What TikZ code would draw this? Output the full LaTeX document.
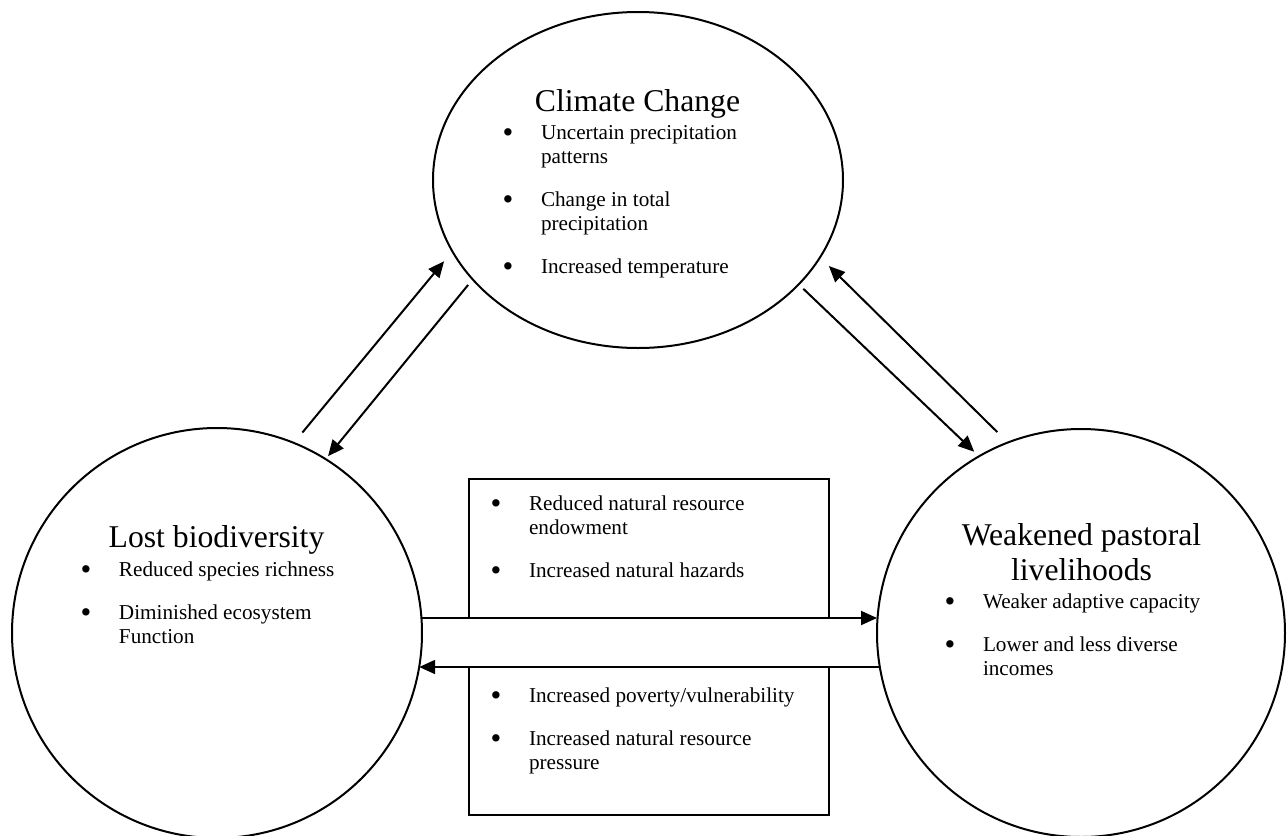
\documentclass[tikz,border=0pt]{standalone}
\usepackage{fontspec}
\setmainfont{Liberation Serif}
\usetikzlibrary{shapes.geometric,arrows.meta}

\newcommand{\headfont}{\fontsize{15.85}{17.5}\selectfont}
\newcommand{\listfont}{\fontsize{10.6}{12}\selectfont}
\newcommand{\gapitem}{\\[9.5pt]}
\newcommand{\dotmark}{\raisebox{-1.9pt}{\scalebox{1.45}{\textbullet}}}

\begin{document}
\begin{tikzpicture}[
                %scale in pixels of the picture
                x=0.5pt, y=-0.5pt,
                line width=1pt,
                bubble/.style={draw, ellipse, inner sep=0pt, outer sep=0pt},
                listbox/.style={draw, rectangle, inner sep=0pt, outer sep=0pt, line width=0.9pt},
                heading/.style={anchor=base, inner sep=0pt, font=\headfont},
                points/.style={anchor=base west, inner sep=0pt, font=\listfont},
                link/.style={-{Triangle[length=8pt,width=7pt]}}] %

\useasboundingbox (0,0) rectangle (1287,836);

% circles


                    % 1
                    \node[bubble, minimum width=205pt, minimum height=168pt] (CC) at (638,180) {};
                    \node[heading] (CCT) at (637.5,111) {Climate Change};
                    \node[points] (CCL) at (501.6,139) {\begin{tabular}[t]{@{}p{19.2pt}@{}l@{}}
                        \dotmark & Uncertain precipitation\\ & patterns\gapitem
                        \dotmark & Change in total\\ & precipitation\gapitem
                        \dotmark & Increased temperature
                    \end{tabular}};


                    % 2
                    \node[bubble, minimum width=205pt, minimum height=205pt] (LB) at (217,633) {};
                    \node[heading] (LBT) at (216.5,547) {Lost biodiversity};
                    \node[points] (LBL) at (79.6,576) {\begin{tabular}[t]{@{}p{19.2pt}@{}l@{}}
                        \dotmark & Reduced species richness\gapitem
                        \dotmark & Diminished ecosystem\\ & Function
                    \end{tabular}};


                    % 3
                    \node[bubble, minimum width=204pt, minimum height=204pt] (WPL) at (1081,633) {};
                    \node[heading] (WPLT) at (1081.5,545) {\begin{tabular}[t]{@{}c@{}}
                        Weakened pastoral\\ livelihoods
                    \end{tabular}};
                    \node[points] (WPLL) at (943.6,608) {\begin{tabular}[t]{@{}p{19.2pt}@{}l@{}}
                        \dotmark & Weaker adaptive capacity\gapitem
                        \dotmark & Lower and less diverse\\ & incomes
                    \end{tabular}};


% boxes

                    \node[listbox, minimum width=180pt, minimum height=69.5pt] (EFF) at (649,548.5) {};
                    \node[points] (EFFL) at (489.6,510) {\begin{tabular}[t]{@{}p{19.2pt}@{}l@{}}
                        \dotmark & Reduced natural resource\\ & endowment\gapitem
                        \dotmark & Increased natural hazards
                    \end{tabular}};

                    \node[listbox, minimum width=180pt, minimum height=74pt] (POV) at (649,741) {};
                    \node[points] (POVL) at (489.6,702) {\begin{tabular}[t]{@{}p{19.2pt}@{}l@{}}
                        \dotmark & Increased poverty/vulnerability\gapitem
                        \dotmark & Increased natural resource\\ & pressure
                    \end{tabular}};


% arrows

                    \draw[link, shorten <=6.75pt, shorten >=6.5pt] (LB.68.5) -- (CC.201.6);
                    \draw[link, shorten <=3.6pt, shorten >=1.9pt] (CC.211.9) -- (LB.58.7);
                    \draw[link, shorten <=3.2pt, shorten >=3.3pt] (CC.327.8) -- (WPL.120.75);
                    \draw[link, shorten <=7.45pt, shorten >=6.2pt] (WPL.111.1) -- (CC.337.7);
                    \draw[link] ([yshift=7.5pt]LB.east) -- ([yshift=7.5pt]WPL.west);
                    \draw[link] ([xshift=1.4pt,yshift=-17pt]WPL.west) -- ([xshift=-1.4pt,yshift=-17pt]LB.east);


%%%%%%%%%%%%%%%%%%%%%%%%%%%%%%%%%%%%%%%%%%%%%%%%%%%%%%%%%%%%%%%%%%%%%%%%%%%%%%%%%%%%


\end{tikzpicture}
\end{document}
